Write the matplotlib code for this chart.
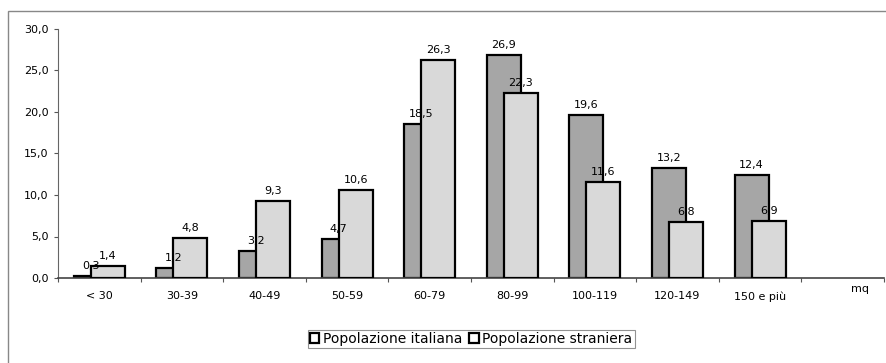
import matplotlib.pyplot as plt
from matplotlib.patches import Rectangle
import numpy as np

plt.rcParams['font.family'] = ['DejaVu Sans']

# Superficie dell'abitazione (mq) e quota di popolazione (%)
classi = ['< 30', '30-39', '40-49', '50-59', '60-79', '80-99', '100-119', '120-149', '150 e più']
italiani = [0.3, 1.2, 3.2, 4.7, 18.5, 26.9, 19.6, 13.2, 12.4]
stranieri = [1.4, 4.8, 9.3, 10.6, 26.3, 22.3, 11.6, 6.8, 6.9]

def virgola(v):
    return f'{v:.1f}'.replace('.', ',')

fig = plt.figure(figsize=(8.86, 3.63), dpi=100)
ax = fig.add_axes([58/886, 1 - 278/363, 826/886, 249/363])

x = np.arange(len(classi)) + 0.5
w = 0.41
off = 0.103
fs = 8

ax.bar(x - off, italiani, w, color='#a6a6a6', edgecolor='black', linewidth=1.6, zorder=2)
ax.bar(x + off, stranieri, w, color='#d9d9d9', edgecolor='black', linewidth=1.6, zorder=3)
# etichette con i valori sopra le barre
for xi, v in zip(x - off, italiani):
    ax.text(xi, v + 0.6, virgola(v), ha='center', va='bottom', fontsize=fs, zorder=5)
for xi, v in zip(x + off, stranieri):
    ax.text(xi, v + 0.6, virgola(v), ha='center', va='bottom', fontsize=fs, zorder=5)

ax.set_xlim(0, 10)
ax.set_ylim(0, 30)
ax.set_yticks(np.arange(0, 31, 5))
ax.set_yticklabels([virgola(v) for v in np.arange(0, 31, 5)], fontsize=fs)
ax.set_xticks(np.arange(0, 11))
ax.set_xticklabels([])
ax.tick_params(axis='x', length=3, color='#555555')
ax.tick_params(axis='y', length=3, color='#555555', pad=4)
for xi, c in zip(x, classi):
    ax.text(xi, -1.6, c, ha='center', va='top', fontsize=fs)
ax.text(9.71, -0.7, 'mq', ha='center', va='top', fontsize=fs)

for s in ['top', 'right']:
    ax.spines[s].set_visible(False)
ax.spines['left'].set_color('#666666')
ax.spines['bottom'].set_color('#444444')
ax.spines['bottom'].set_linewidth(1.2)

# cornice esterna
fig.patches.append(Rectangle((8/886, -0.02), 1.0, 1 - 11/363 + 0.02,
                             transform=fig.transFigure, fill=False,
                             edgecolor='#888888', linewidth=1.0))

handles = [Rectangle((0, 0), 1, 1, facecolor='white', edgecolor='black', linewidth=1.6),
           Rectangle((0, 0), 1, 1, facecolor='white', edgecolor='black', linewidth=1.6)]
leg = fig.legend(handles, ['Popolazione italiana', 'Popolazione straniera'],
                 loc='center', bbox_to_anchor=(471/886, 1 - 339/363), ncol=2,
                 fontsize=10, frameon=True, fancybox=False, borderpad=0.15,
                 handlelength=0.7, handleheight=0.7, handletextpad=0.25,
                 columnspacing=0.5, borderaxespad=0)
leg.get_frame().set_edgecolor('#777777')
leg.get_frame().set_linewidth(0.8)

fig.savefig('out.png', dpi=100)
